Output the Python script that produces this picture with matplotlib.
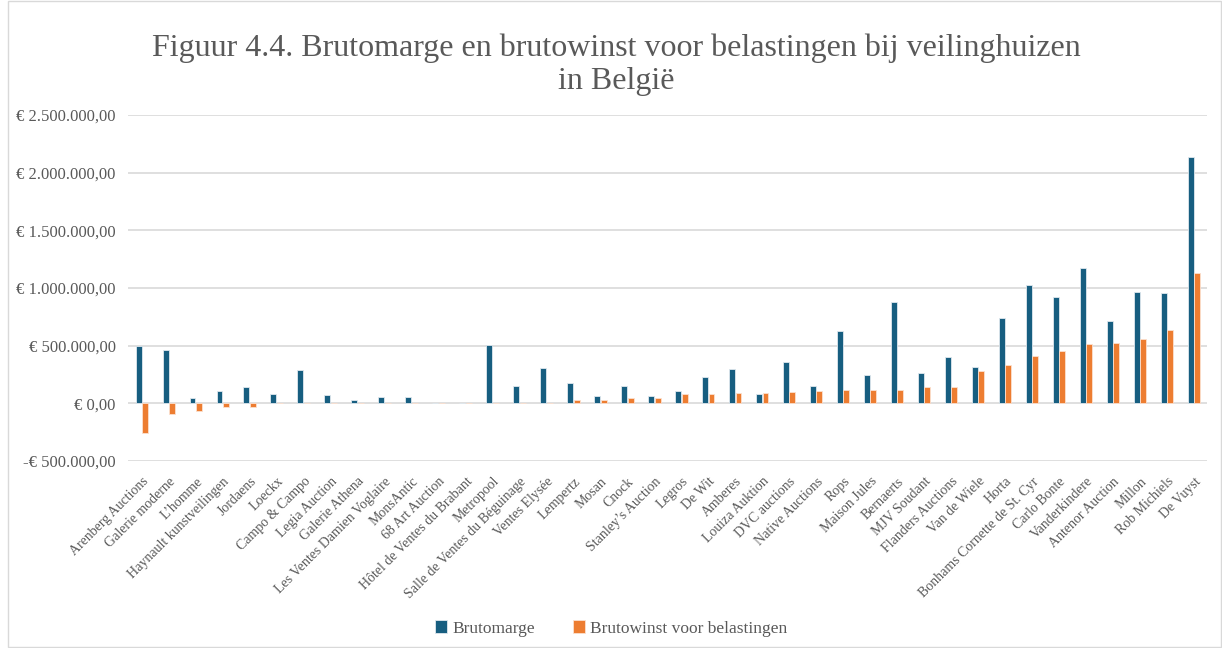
import numpy as np
import matplotlib.pyplot as plt
from matplotlib.patches import Rectangle
from matplotlib.ticker import FuncFormatter

veilinghuizen = [
    "Arenberg Auctions", "Galerie moderne", "L\u2019homme", "Haynault kunstveilingen",
    "Jordaens", "Loeckx", "Campo & Campo", "Legia Auction", "Galerie Athena",
    "Les Ventes Damien Voglaire", "MonsAntic", "68 Art Auction",
    "Hôtel de Ventes du Brabant", "Metropool", "Salle de Ventes du Béguinage",
    "Ventes Elysée", "Lempertz", "Mosan", "Cnock", "Stanley\u2019s Auction", "Legros",
    "De Wit", "Amberes", "Louiza Auktion", "DVC auctions", "Native Auctions", "Rops",
    "Maison Jules", "Bernaerts", "MJV Soudant", "Flanders Auctions", "Van de Wiele",
    "Horta", "Bonhams Cornette de St. Cyr", "Carlo Bonte", "Vanderkindere",
    "Antenor Auction", "Millon", "Rob Michiels", "De Vuyst",
]
brutomarge = [
    497000, 460000, 43000, 110000, 139000, 78000, 286000, 72000, 29000,
    58000, 58000, 0, 0, 506000, 150000, 306000, 176000, 64000, 150000, 64000,
    104000, 231000, 298000, 78000, 355000, 150000, 627000, 243000, 879000,
    260000, 399000, 312000, 740000, 1026000, 919000, 1171000, 714000, 965000,
    960000, 2139000,
]
brutowinst = [
    -254000, -95000, -64000, -35000, -29000, 0, 0, 0, 0,
    0, 0, 0, 0, 0, 0, 0, 29000, 29000, 46000, 43000,
    84000, 84000, 90000, 90000, 98000, 107000, 113000, 113000, 113000,
    142000, 142000, 280000, 332000, 408000, 454000, 517000, 523000, 558000,
    636000, 1133000,
]

blauw = "#175E80"
oranje = "#ED7D31"
grijs = "#595959"
plt.rcParams['font.family'] = ['Liberation Serif', 'DejaVu Serif']


def euro(v, pos):
    s = f"{abs(v):,.2f}".replace(",", "X").replace(".", ",").replace("X", ".")
    return ("-€ " if v < 0 else "€ ") + s


fig = plt.figure(figsize=(12.22, 6.48), dpi=100)
ax = fig.add_axes([0.105, 0.2886, 0.883, 0.5339])

x = np.arange(len(veilinghuizen))
w = 0.22
ax.bar(x - 0.12, brutomarge, w, color=blauw, edgecolor="#dfe8ee", linewidth=0.6,
       label="Brutomarge", zorder=3)
ax.bar(x + 0.12, brutowinst, w, color=oranje, edgecolor="#fbe0cf", linewidth=0.6,
       label="Brutowinst voor belastingen", zorder=3)

ax.set_xlim(-0.5, len(veilinghuizen) - 0.5)
ax.set_ylim(-500000, 2500000)
ax.set_yticks(np.arange(-500000, 2500001, 500000))
ax.yaxis.set_major_formatter(FuncFormatter(euro))
ax.grid(axis="y", color="#D9D9D9", linewidth=1.2, zorder=0)
for s in ax.spines.values():
    s.set_visible(False)
ax.tick_params(axis="y", length=0, pad=9, labelsize=12, labelcolor=grijs)
ax.tick_params(axis="x", length=0, pad=10, labelsize=10, labelcolor=grijs)
ax.set_xticks(x)
ax.set_xticklabels(veilinghuizen, rotation=45, ha="right", rotation_mode="anchor")

fig.text(0.504, 0.9, "Figuur 4.4. Brutomarge en brutowinst voor belastingen bij veilinghuizen\nin België",
         ha="center", va="center", fontsize=23, color=grijs, linespacing=1.15)

ax.legend(loc="center", bbox_to_anchor=(0.5, 0.03), bbox_transform=fig.transFigure,
          ncol=2, frameon=False, fontsize=12.5, labelcolor=grijs,
          handlelength=0.7, handleheight=0.7, handletextpad=0.3, columnspacing=2.2)

fig.patches.append(Rectangle((8 / 1222, 0.002), 1 - 9 / 1222, 0.996, transform=fig.transFigure,
                             fill=False, edgecolor="#D9D9D9", linewidth=1))

fig.savefig("out.png", dpi=100)
